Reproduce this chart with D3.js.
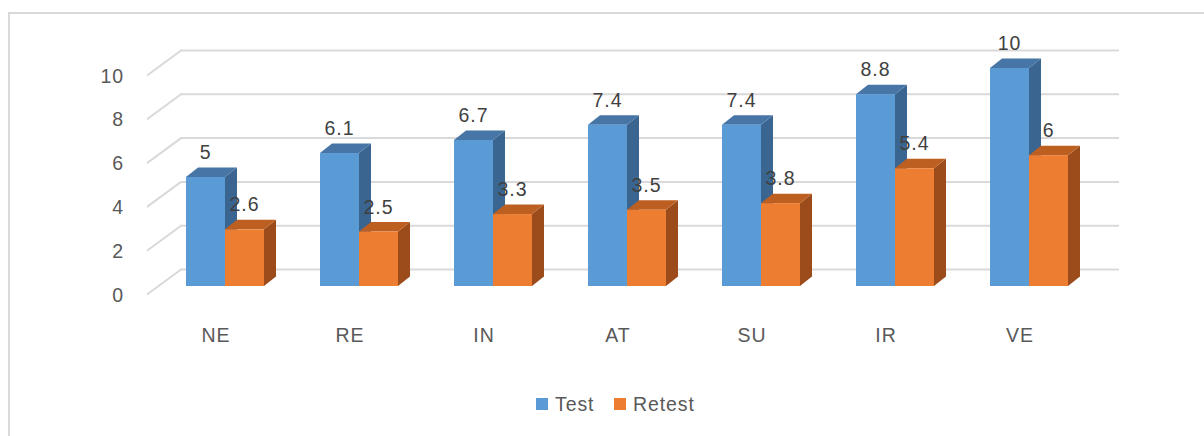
<!DOCTYPE html>
<html>
<head>
<meta charset="utf-8">
<script src="https://cdn.jsdelivr.net/npm/d3@7"></script>
<style>
  html, body { margin: 0; padding: 0; background: #fff; }
  svg { display: block; }
  text { font-family: "Liberation Sans", Arial, sans-serif; fill: #595959; letter-spacing: 0.9px; }
</style>
</head>
<body>
<svg width="1204" height="436"></svg>
<script>
// data
const categories = ['NE', 'RE', 'IN', 'AT', 'SU', 'IR', 'VE'];
const seriesNames = ['Test', 'Retest'];
const testValues = [5, 6.1, 6.7, 7.4, 7.4, 8.8, 10];
const retestValues = [2.6, 2.5, 3.3, 3.5, 3.8, 5.4, 6];
const yTicks = [0, 2, 4, 6, 8, 10];

const colors = {
    Test:   { front: '#5b9bd5', top: '#4675a6', side: '#3a6590' },
    Retest: { front: '#ed7d31', top: '#be5f22', side: '#9c4c1b' }
};

function render() {
    const svg = d3.select('svg');

    // chart frame (top + left edges only visible)
    svg.append('path')
        .attr('d', 'M9,436 L9,13 L1204,13')
        .attr('fill', 'none')
        .attr('stroke', '#d9d9d9')
        .attr('stroke-width', 2);

    // 3D offsets
    const depthX = 12, depthY = -9.5;   // bar depth
    const wallX = -34, wallY = 25;      // side wall diagonal

    const yBack = d3.scaleLinear().domain([0, 10]).range([269.5, 50.5]); // back wall gridlines
    const yBar = d3.scaleLinear().domain([0, 10]).range([286, 68]);      // bar front faces

    const x = d3.scaleBand().domain(categories).range([152, 152 + 134 * 7]).padding(0);
    const xs = d3.scaleBand().domain(seriesNames).range([34, 34 + 78]).padding(0);

    // gridlines
    const grid = svg.append('g');
    grid.selectAll('line.h')
        .data(yTicks)
        .enter()
        .append('line')
        .attr('x1', 180).attr('x2', 1119)
        .attr('y1', d => yBack(d)).attr('y2', d => yBack(d))
        .attr('stroke', '#d9d9d9').attr('stroke-width', 2);
    grid.selectAll('line.d')
        .data(yTicks)
        .enter()
        .append('line')
        .attr('x1', 181).attr('x2', 181 + wallX)
        .attr('y1', d => yBack(d)).attr('y2', d => yBack(d) + wallY)
        .attr('stroke', '#d9d9d9').attr('stroke-width', 2);

    // y tick labels
    svg.append('g').selectAll('text')
        .data(yTicks)
        .enter()
        .append('text')
        .text(d => d)
        .attr('x', 124)
        .attr('y', d => yBack(d) + wallY + 7)
        .attr('text-anchor', 'end')
        .style('font-size', '19.5px');

    // bars
    const rows = [];
    categories.forEach((c, i) => {
        rows.push({ cat: c, series: 'Test', value: testValues[i] });
        rows.push({ cat: c, series: 'Retest', value: retestValues[i] });
    });

    const bw = xs.bandwidth();
    const groups = svg.append('g').selectAll('g.bar')
        .data(rows)
        .enter()
        .append('g')
        .attr('class', 'bar');

    groups.each(function (d) {
        const g = d3.select(this);
        const x0 = x(d.cat) + xs(d.series);
        const x1 = x0 + bw;
        const yb = yBar(0), yt = yBar(d.value);
        const col = colors[d.series];
        // side
        g.append('path')
            .attr('d', `M${x1},${yb} L${x1 + depthX},${yb + depthY} L${x1 + depthX},${yt + depthY} L${x1},${yt} Z`)
            .attr('fill', col.side);
        // top
        g.append('path')
            .attr('d', `M${x0},${yt} L${x0 + depthX},${yt + depthY} L${x1 + depthX},${yt + depthY} L${x1},${yt} Z`)
            .attr('fill', col.top);
        // front
        g.append('rect')
            .attr('x', x0).attr('y', yt)
            .attr('width', bw).attr('height', yb - yt)
            .attr('fill', col.front);
    });

    // data labels
    svg.append('g').selectAll('text')
        .data(rows)
        .enter()
        .append('text')
        .text(d => d.value)
        .attr('x', d => x(d.cat) + xs(d.series) + bw / 2)
        .attr('y', d => yBar(d.value) - 18)
        .attr('text-anchor', 'middle')
        .style('font-size', '19.5px')
        .style('fill', '#404040');

    // category labels
    svg.append('g').selectAll('text')
        .data(categories)
        .enter()
        .append('text')
        .text(d => d)
        .attr('x', d => x(d) + 34 + 30)
        .attr('y', 342)
        .attr('text-anchor', 'middle')
        .style('font-size', '19.5px');

    // legend
    const legendX = [536, 614];
    const legend = svg.append('g').selectAll('g')
        .data(seriesNames)
        .enter()
        .append('g');
    legend.append('rect')
        .attr('x', (d, i) => legendX[i]).attr('y', 398)
        .attr('width', 12).attr('height', 12)
        .attr('fill', d => colors[d].front);
    legend.append('text')
        .text(d => d)
        .attr('x', (d, i) => legendX[i] + 19)
        .attr('y', 411)
        .style('font-size', '19.5px');
}

render();
</script>
</body>
</html>
